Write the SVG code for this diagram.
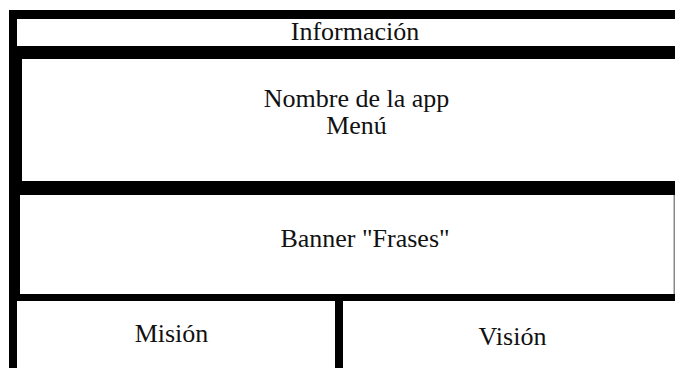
<svg xmlns="http://www.w3.org/2000/svg" width="675" height="368" viewBox="0 0 675 368">
<style>
.bar{fill:#000}
.t{font-family:"Liberation Serif","Times New Roman",serif;font-size:26px;fill:#111;text-anchor:middle}
</style>
<rect x="0" y="0" width="675" height="368" fill="#fff"/>
<g id="informacion">
<rect class="bar" x="9" y="10" width="666" height="9"/>
<rect class="bar" x="9" y="10" width="8" height="40"/>
<text class="t" x="355" y="39.5">Información</text>
</g>
<g id="nombre-menu">
<rect class="bar" x="9" y="46" width="666" height="13"/>
<rect class="bar" x="9" y="46" width="13" height="140"/>
<text class="t" x="356.5" y="107">Nombre de la app</text>
<text class="t" x="356.5" y="134">Menú</text>
</g>
<g id="banner">
<rect class="bar" x="9" y="181" width="666" height="14"/>
<rect class="bar" x="9" y="181" width="11" height="116"/>
<rect x="673.5" y="195" width="1.5" height="100" fill="#888"/>
<text class="t" x="365" y="247">Banner "Frases"</text>
</g>
<g id="mision">
<rect class="bar" x="9" y="294" width="666" height="7"/>
<rect class="bar" x="9" y="294" width="8" height="74"/>
<text class="t" x="171.5" y="341.5">Misión</text>
</g>
<g id="vision">
<text class="t" x="512.5" y="344.5">Visión</text>
</g>
<g id="connectors">
<rect class="bar" x="335" y="294" width="8" height="74"/>
</g>
</svg>
